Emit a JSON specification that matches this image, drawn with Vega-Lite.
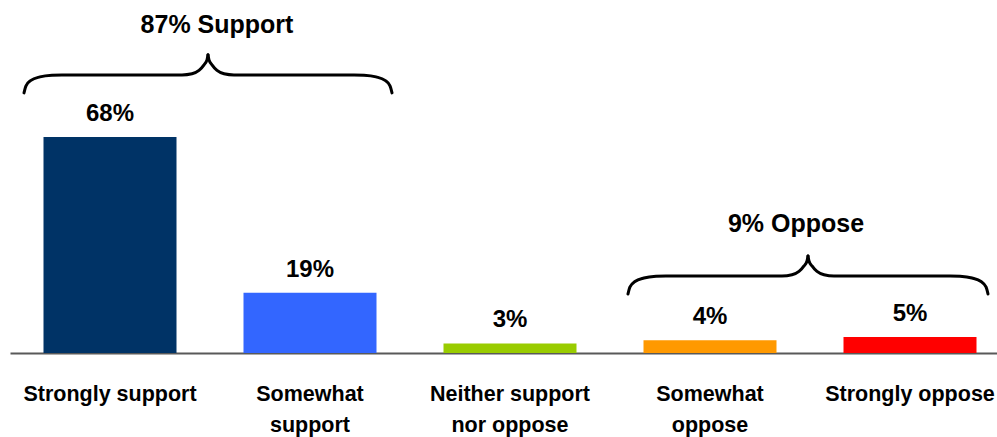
{
  "$schema": "https://vega.github.io/schema/vega-lite/v6.json",
  "width": 987,
  "height": 353,
  "autosize": {"type": "none"},
  "padding": {"left": 10, "top": 0, "right": 0, "bottom": 84},
  "background": "white",
  "config": {"view": {"stroke": null}, "font": "Liberation Sans"},
  "datasets": {
    "bars": [
      {"cat": "Strongly support", "pct": 68, "label": "68%"},
      {"cat": "Somewhat support", "pct": 19, "label": "19%"},
      {"cat": "Neither support nor oppose", "pct": 3, "label": "3%"},
      {"cat": "Somewhat oppose", "pct": 4, "label": "4%"},
      {"cat": "Strongly oppose", "pct": 5, "label": "5%"}
    ],
    "braces": [
      {"seg": "s1L", "bx": 0.07, "by": 81.86}, {"seg": "s1L", "bx": 0.08, "by": 84.07}, {"seg": "s1L", "bx": 0.105, "by": 85.8}, {"seg": "s1L", "bx": 0.15, "by": 86.9}, {"seg": "s1L", "bx": 0.21, "by": 87.44}, {"seg": "s1L", "bx": 0.26, "by": 87.53}, {"seg": "s1L", "bx": 0.86, "by": 87.53}, {"seg": "s1L", "bx": 0.91, "by": 87.91}, {"seg": "s1L", "bx": 0.945, "by": 88.95}, {"seg": "s1L", "bx": 0.97, "by": 90.68}, {"seg": "s1L", "bx": 0.985, "by": 92.25}, {"seg": "s1L", "bx": 0.99, "by": 93.83},
      {"seg": "s1R", "bx": 1.91, "by": 81.86}, {"seg": "s1R", "bx": 1.9, "by": 84.07}, {"seg": "s1R", "bx": 1.875, "by": 85.8}, {"seg": "s1R", "bx": 1.83, "by": 86.9}, {"seg": "s1R", "bx": 1.77, "by": 87.44}, {"seg": "s1R", "bx": 1.72, "by": 87.53}, {"seg": "s1R", "bx": 1.12, "by": 87.53}, {"seg": "s1R", "bx": 1.07, "by": 87.91}, {"seg": "s1R", "bx": 1.035, "by": 88.95}, {"seg": "s1R", "bx": 1.01, "by": 90.68}, {"seg": "s1R", "bx": 0.995, "by": 92.25}, {"seg": "s1R", "bx": 0.99, "by": 93.83},
      {"seg": "s2L", "bx": 3.09, "by": 18.58}, {"seg": "s2L", "bx": 3.1, "by": 20.78}, {"seg": "s2L", "bx": 3.125, "by": 22.51}, {"seg": "s2L", "bx": 3.17, "by": 23.61}, {"seg": "s2L", "bx": 3.23, "by": 24.15}, {"seg": "s2L", "bx": 3.28, "by": 24.24}, {"seg": "s2L", "bx": 3.86, "by": 24.24}, {"seg": "s2L", "bx": 3.91, "by": 24.62}, {"seg": "s2L", "bx": 3.945, "by": 25.66}, {"seg": "s2L", "bx": 3.97, "by": 27.39}, {"seg": "s2L", "bx": 3.985, "by": 28.97}, {"seg": "s2L", "bx": 3.99, "by": 30.54},
      {"seg": "s2R", "bx": 4.89, "by": 18.58}, {"seg": "s2R", "bx": 4.88, "by": 20.78}, {"seg": "s2R", "bx": 4.855, "by": 22.51}, {"seg": "s2R", "bx": 4.81, "by": 23.61}, {"seg": "s2R", "bx": 4.75, "by": 24.15}, {"seg": "s2R", "bx": 4.7, "by": 24.24}, {"seg": "s2R", "bx": 4.12, "by": 24.24}, {"seg": "s2R", "bx": 4.07, "by": 24.62}, {"seg": "s2R", "bx": 4.035, "by": 25.66}, {"seg": "s2R", "bx": 4.01, "by": 27.39}, {"seg": "s2R", "bx": 3.995, "by": 28.97}, {"seg": "s2R", "bx": 3.99, "by": 30.54}
    ],
    "titles": [
      {"t": "87% Support", "bx": 1.035, "by": 100.8},
      {"t": "9% Oppose", "bx": 3.93, "by": 38.2}
    ]
  },
  "layer": [
    {
      "data": {"name": "bars"},
      "layer": [
        {
          "mark": {"type": "bar"},
          "encoding": {
            "x": {
              "field": "cat", "type": "nominal", "sort": null,
              "scale": {"range": [0, 1000], "paddingInner": 0.335, "paddingOuter": 0.1675},
              "axis": {
                "title": null, "domainColor": "#595959", "domainWidth": 2, "ticks": false,
                "labelFont": "Liberation Sans", "labelFontSize": 21.5, "labelFontWeight": "bold",
                "labelColor": "black", "labelPadding": 30, "labelLineHeight": 31.5, "labelAngle": 0,
                "labelOverlap": false, "labelLimit": 0, "labelFlush": false,
                "labelExpr": "datum.label == 'Somewhat support' ? ['Somewhat', 'support'] : datum.label == 'Neither support nor oppose' ? ['Neither support', 'nor oppose'] : datum.label == 'Somewhat oppose' ? ['Somewhat', 'oppose'] : datum.label"
              }
            },
            "y": {"field": "pct", "type": "quantitative", "scale": {"domain": [0, 111.1], "nice": false}, "axis": null},
            "color": {
              "field": "cat", "type": "nominal", "legend": null,
              "scale": {
                "domain": ["Strongly support", "Somewhat support", "Neither support nor oppose", "Somewhat oppose", "Strongly oppose"],
                "range": ["#003366", "#3366FF", "#99CC00", "#FF9900", "#FF0000"]
              }
            }
          }
        },
        {
          "mark": {"type": "text", "dy": -16, "baseline": "alphabetic", "fontSize": 24, "fontWeight": "bold", "font": "Liberation Sans", "color": "black"},
          "encoding": {
            "x": {"field": "cat", "type": "nominal", "sort": null},
            "y": {"field": "pct", "type": "quantitative", "scale": {"domain": [0, 111.1], "nice": false}, "axis": null},
            "text": {"field": "label"}
          }
        }
      ]
    },
    {
      "layer": [
        {
          "data": {"name": "braces"},
          "mark": {"type": "line", "interpolate": "monotone", "color": "black", "strokeWidth": 3, "strokeCap": "round"},
          "encoding": {
            "x": {"field": "bx", "type": "quantitative", "scale": {"domain": [0, 5], "range": [0, 1000], "nice": false}, "axis": null},
            "y": {"field": "by", "type": "quantitative", "scale": {"domain": [0, 111.1], "nice": false}, "axis": null},
            "detail": {"field": "seg"}
          }
        },
        {
          "data": {"name": "titles"},
          "mark": {"type": "text", "baseline": "alphabetic", "fontSize": 25, "fontWeight": "bold", "font": "Liberation Sans", "color": "black"},
          "encoding": {
            "x": {"field": "bx", "type": "quantitative"},
            "y": {"field": "by", "type": "quantitative", "scale": {"domain": [0, 111.1], "nice": false}, "axis": null},
            "text": {"field": "t"}
          }
        }
      ]
    }
  ],
  "resolve": {"scale": {"x": "independent"}}
}
